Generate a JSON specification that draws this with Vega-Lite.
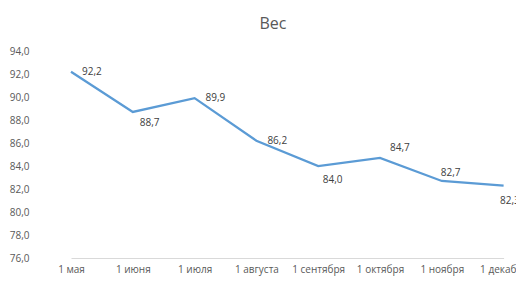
{
  "$schema": "https://vega.github.io/schema/vega-lite/v6.json",
  "autosize": {"type": "none"},
  "width": 476,
  "height": 207,
  "padding": {"left": 40, "top": 51, "right": 0, "bottom": 32},
  "background": "white",
  "title": {
    "text": "Вес",
    "font": "Open Sans",
    "fontSize": 16,
    "fontWeight": "normal",
    "color": "#595959",
    "anchor": "middle",
    "dx": -5,
    "offset": 14
  },
  "data": {
    "values": [
      {"month": "1 мая", "weight": 92.2},
      {"month": "1 июня", "weight": 88.7},
      {"month": "1 июля", "weight": 89.9},
      {"month": "1 августа", "weight": 86.2},
      {"month": "1 сентября", "weight": 84.0},
      {"month": "1 октября", "weight": 84.7},
      {"month": "1 ноября", "weight": 82.7},
      {"month": "1 декабря", "weight": 82.3}
    ]
  },
  "encoding": {
    "x": {
      "field": "month",
      "type": "ordinal",
      "sort": null,
      "scale": {"type": "point", "range": [31, 463.6], "padding": 0},
      "axis": {
        "title": null,
        "labelAngle": 0,
        "ticks": false,
        "domainColor": "#D9D9D9",
        "domainWidth": 1,
        "labelPadding": 6,
        "labelFont": "Open Sans",
        "labelFontSize": 10,
        "labelColor": "#595959",
        "labelOverlap": false,
        "labelBound": false,
        "labelFlush": false
      }
    },
    "y": {
      "field": "weight",
      "type": "quantitative",
      "scale": {"domain": [76, 94], "nice": false, "zero": false},
      "axis": {
        "title": null,
        "values": [76, 78, 80, 82, 84, 86, 88, 90, 92, 94],
        "format": ".1f",
        "domain": false,
        "ticks": false,
        "grid": false,
        "labelPadding": 11,
        "labelFont": "Open Sans",
        "labelFontSize": 10,
        "labelColor": "#595959"
      }
    }
  },
  "layer": [
    {
      "mark": {"type": "line", "color": "#5B9BD5", "strokeWidth": 2.25}
    },
    {
      "transform": [{"filter": {"field": "month", "oneOf": ["1 мая", "1 июля", "1 августа"]}}],
      "mark": {"type": "text", "align": "left", "baseline": "middle", "dx": 11, "dy": 0, "font": "Open Sans", "fontSize": 10, "color": "#404040"},
      "encoding": {"text": {"field": "weight", "type": "quantitative", "format": ".1f"}}
    },
    {
      "transform": [{"filter": {"field": "month", "equal": "1 июня"}}],
      "mark": {"type": "text", "align": "left", "baseline": "middle", "dx": 7, "dy": 11, "font": "Open Sans", "fontSize": 10, "color": "#404040"},
      "encoding": {"text": {"field": "weight", "type": "quantitative", "format": ".1f"}}
    },
    {
      "transform": [{"filter": {"field": "month", "equal": "1 сентября"}}],
      "mark": {"type": "text", "align": "left", "baseline": "middle", "dx": 4.5, "dy": 14, "font": "Open Sans", "fontSize": 10, "color": "#404040"},
      "encoding": {"text": {"field": "weight", "type": "quantitative", "format": ".1f"}}
    },
    {
      "transform": [{"filter": {"field": "month", "equal": "1 октября"}}],
      "mark": {"type": "text", "align": "left", "baseline": "middle", "dx": 10, "dy": -10, "font": "Open Sans", "fontSize": 10, "color": "#404040"},
      "encoding": {"text": {"field": "weight", "type": "quantitative", "format": ".1f"}}
    },
    {
      "transform": [{"filter": {"field": "month", "equal": "1 ноября"}}],
      "mark": {"type": "text", "align": "left", "baseline": "middle", "dx": -1, "dy": -8, "font": "Open Sans", "fontSize": 10, "color": "#404040"},
      "encoding": {"text": {"field": "weight", "type": "quantitative", "format": ".1f"}}
    },
    {
      "transform": [{"filter": {"field": "month", "equal": "1 декабря"}}],
      "mark": {"type": "text", "align": "left", "baseline": "middle", "dx": -3.5, "dy": 15, "font": "Open Sans", "fontSize": 10, "color": "#404040"},
      "encoding": {"text": {"field": "weight", "type": "quantitative", "format": ".1f"}}
    }
  ],
  "config": {
    "view": {"stroke": null},
    "locale": {
      "number": {"decimal": ",", "thousands": " ", "grouping": [3], "currency": ["", " ₽"]}
    }
  }
}
